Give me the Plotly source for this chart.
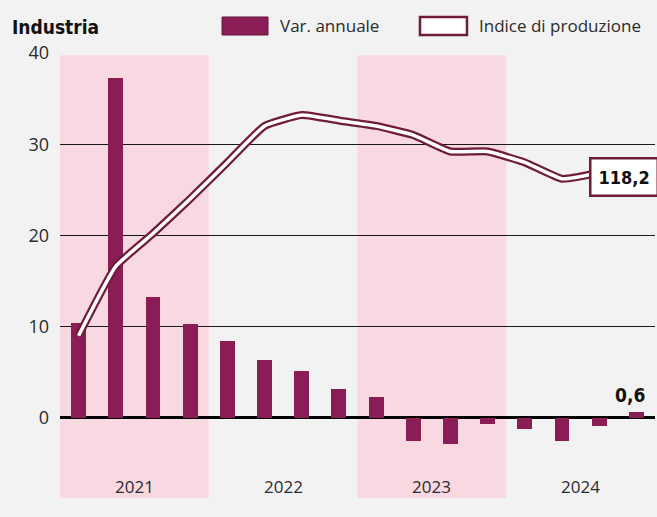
import plotly.graph_objects as go

quarters = ["2021 T1", "2021 T2", "2021 T3", "2021 T4",
            "2022 T1", "2022 T2", "2022 T3", "2022 T4",
            "2023 T1", "2023 T2", "2023 T3", "2023 T4",
            "2024 T1", "2024 T2", "2024 T3", "2024 T4"]
var_annuale = [10.4, 37.3, 13.2, 10.3, 8.4, 6.35, 5.1, 3.1,
               2.3, -2.6, -2.9, -0.7, -1.2, -2.6, -0.9, 0.6]
indice = [109.5, 113.3, 115.1, 117.0, 119.0, 121.0, 121.6, 121.3,
          121.0, 120.5, 119.6, 119.6, 119.0, 118.1, 118.4, 118.2]
years = ["2021", "2022", "2023", "2024"]
y_ticks = [0, 10, 20, 30, 40]

BAR = "#8a1d55"
DARK = "#6f1b3c"
PINK = "#f8d8e1"
BG = "#f2f2f2"
TXT = "#2b2b2b"
NARROW = "Liberation Sans Narrow, DejaVu Sans Condensed, Roboto, sans-serif"
SANS = "Open Sans, DejaVu Sans, sans-serif"

xs = list(range(len(quarters)))

fig = go.Figure()
fig.add_trace(go.Bar(x=xs, y=var_annuale, marker_color=BAR, width=0.4,
                     marker_line_width=0, showlegend=False, yaxis="y"))
fig.add_trace(go.Scatter(x=xs, y=indice, mode="lines", yaxis="y2",
                         line=dict(color=DARK, width=8, shape="spline", smoothing=0.4),
                         showlegend=False))
fig.add_trace(go.Scatter(x=xs, y=indice, mode="lines", yaxis="y2",
                         line=dict(color="white", width=3.5, shape="spline", smoothing=0.4),
                         showlegend=False))

shapes = []
for i in (0, 2):
    shapes.append(dict(type="rect", xref="x", yref="paper",
                       x0=i * 4 - 0.5, x1=i * 4 + 3.5, y0=0, y1=0.995,
                       fillcolor=PINK, line_width=0, layer="below"))
# legend swatches
shapes.append(dict(type="rect", xref="paper", yref="paper",
                   x0=0.2723, x1=0.3496, y0=1.0404, y1=1.0809,
                   fillcolor=BAR, line=dict(color="#6a1840", width=1)))
shapes.append(dict(type="rect", xref="paper", yref="paper",
                   x0=0.605, x1=0.684, y0=1.0404, y1=1.0809,
                   fillcolor="white", line=dict(color=DARK, width=2.5)))

annotations = []
for k, yr in enumerate(years):
    annotations.append(dict(x=k * 4 + 1.5, y=-7.5, xref="x", yref="y",
                            text=yr, showarrow=False,
                            font=dict(family=SANS, size=17, color=TXT)))
annotations.append(dict(x=-0.084, y=1.0584, xref="paper", yref="paper",
                        text="<b>Industria</b>", showarrow=False,
                        xanchor="left", yanchor="middle",
                        font=dict(family=NARROW, size=19, color="#111")))
annotations.append(dict(x=0.3664, y=1.0607, xref="paper", yref="paper",
                        text="Var. annuale", showarrow=False,
                        xanchor="left", yanchor="middle",
                        font=dict(family=SANS, size=17, color=TXT)))
annotations.append(dict(x=0.7008, y=1.0607, xref="paper", yref="paper",
                        text="Indice di produzione", showarrow=False,
                        xanchor="left", yanchor="middle",
                        font=dict(family=SANS, size=17, color=TXT)))
annotations.append(dict(x=xs[-1], y=indice[-1], xref="x", yref="y2",
                        text="<b>" + f"{indice[-1]:.1f}".replace(".", ",") + "</b>",
                        showarrow=False, xshift=-12,
                        bgcolor="white", bordercolor=DARK, borderwidth=2.5,
                        borderpad=7,
                        font=dict(family=NARROW, size=18, color="#111")))
annotations.append(dict(x=xs[-1], y=var_annuale[-1], xref="x", yref="y",
                        text="<b>" + f"{var_annuale[-1]:.1f}".replace(".", ",") + "</b>",
                        showarrow=False, yanchor="bottom", yshift=4, xshift=-6,
                        font=dict(family=NARROW, size=19, color="#111")))

fig.update_layout(
    width=657, height=517,
    margin=dict(l=60, r=2, t=53, b=19),
    paper_bgcolor=BG, plot_bgcolor=BG,
    bargap=0,
    xaxis=dict(range=[-0.5, 15.5], showgrid=False, showticklabels=False,
               zeroline=False, showline=False, fixedrange=True),
    yaxis=dict(range=[-8.8, 40], tickvals=y_ticks,
               ticktext=[str(v) for v in y_ticks],
               showgrid=True, gridcolor="#1a1a1a", gridwidth=1,
               zeroline=True, zerolinecolor="#000", zerolinewidth=3,
               showline=False, ticks="", ticklabelstandoff=10,
               tickfont=dict(family=SANS, size=18, color=TXT)),
    yaxis2=dict(range=[100.6, 125], overlaying="y", visible=False),
    shapes=shapes, annotations=annotations,
)

fig.write_html("out.html")
